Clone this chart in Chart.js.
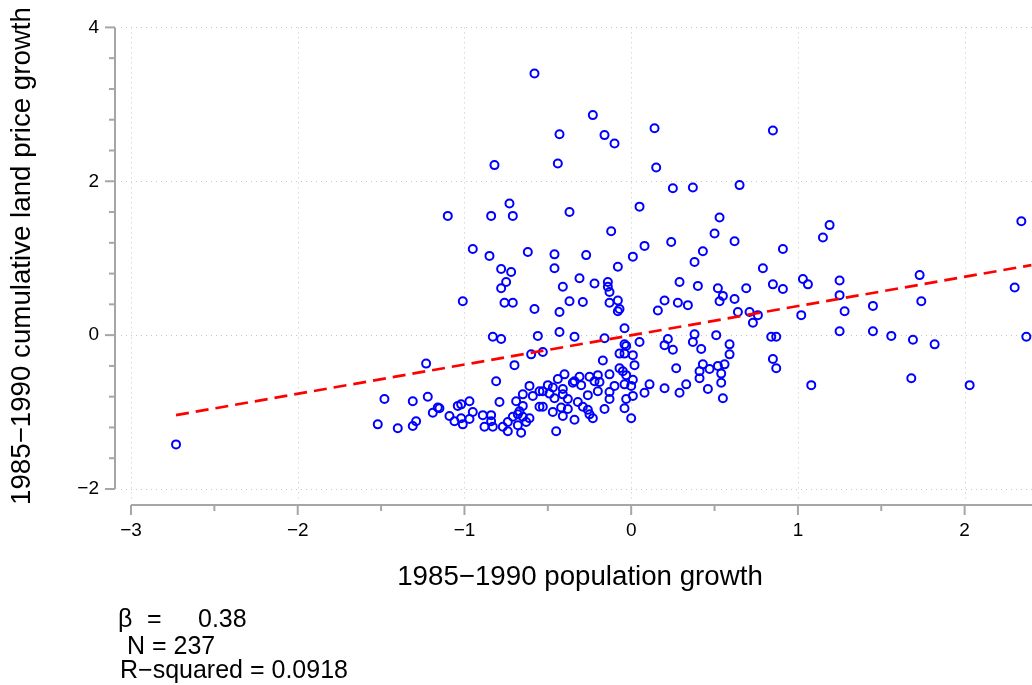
<!DOCTYPE html>
<html>
<head>
<meta charset="utf-8">
<script src="https://cdn.jsdelivr.net/npm/chart.js@4.4.0/dist/chart.umd.min.js"></script>
<style>
  html, body { margin: 0; padding: 0; background: #fff; }
  #wrap { width: 1032px; height: 685px; }
</style>
</head>
<body>
<div id="wrap"><canvas id="myChart" width="1032" height="685"></canvas></div>
<script>
// Data
const popGrowth = [
  -0.58, -0.23, -0.43, -0.16, -0.10, 0.14, 0.15, -0.82, -0.44, 0.25,
  0.37, 0.65, 0.85, -1.10, -0.73, -0.84, -0.71, -0.37, -0.12, 0.05,
  0.53, 0.50, 1.19, 1.15, 2.34, 0.08, 0.24, 0.62, -0.95, -0.62,
  -0.85, -0.46, -0.27, 0.01, 0.43, 0.91, 0.38, 0.79, -0.78, -0.72,
  -0.46, -0.08, -0.75, -0.78, -0.31, -0.41, -0.22, -0.14, -0.14, -0.13,
  0.29, 0.40, 0.52, 0.69, 0.85, 0.91, 1.03, 1.06, 1.25, 1.25,
  1.28, 1.45, 1.73, 1.74, 2.30, -1.01, -0.76, -0.71, -0.58, -0.43,
  -0.37, -0.29, -0.13, -0.08, -0.08, -0.07, 0.20, 0.16, 0.28, 0.34,
  0.53, 0.55, 0.62, 0.64, 0.71, 0.76, 0.73, 1.02, -0.04, 1.25,
  1.45, 1.56, 1.69, 1.82, 2.37, 0.84, 0.87, 0.85, 0.87, 1.08,
  1.68, 2.03, 0.59, 0.59, 0.56, 0.54, 0.54, 0.55, -0.83, -0.78,
  -0.56, -0.43, -0.34, -0.16, 0.22, 0.38, 0.37, 0.51, -0.04, 0.05,
  0.20, 0.25, 0.42, 0.52, -0.60, -0.53, -0.03, -0.07, -0.04, 0.01,
  -0.17, 0.02, -0.13, -0.07, -0.05, -0.03, -0.20, -0.22, -0.19, -0.20,
  -0.25, -0.31, -0.34, -0.35, -0.30, -0.40, -0.44, -0.50, -0.47, -0.41,
  -0.53, -0.49, -0.41, -0.46, -0.38, -0.26, -0.32, -0.29, -0.53, -0.42,
  -0.38, -0.26, -0.47, -0.41, -0.25, -0.23, -0.34, -0.45, -0.59, -0.13,
  -0.13, -0.16, -0.10, -0.04, 0.00, 0.01, -0.03, -0.04, 0.00, 0.27,
  0.43, 0.41, 0.47, 0.41, 0.33, 0.20, 0.29, 0.46, 0.11, 0.08,
  0.01, -0.70, -0.81, -0.79, -1.15, -1.09, -1.04, -1.02, -0.97, -0.95,
  -1.06, -1.02, -1.01, -0.97, -0.89, -0.84, -0.84, -0.88, -0.83, -0.77,
  -0.74, -0.74, -0.71, -0.69, -0.65, -0.61, -0.65, -0.67, -0.68, -0.65,
  -0.61, -0.63, -0.68, -0.66, -0.55, -0.55, -2.73, -1.23, -1.48, -1.31,
  -1.22, -1.16, -1.19, -1.52, -1.40, -1.29, -1.31
];
const landGrowth = [
  3.40, 2.86, 2.61, 2.60, 2.49, 2.69, 2.18, 2.21, 2.23, 1.91,
  1.92, 1.95, 2.66, 1.55, 1.71, 1.55, 1.55, 1.60, 1.35, 1.67,
  1.53, 1.32, 1.43, 1.27, 1.48, 1.16, 1.21, 1.22, 1.12, 1.08,
  1.03, 1.05, 1.04, 1.02, 1.09, 1.12, 0.95, 0.87, 0.86, 0.82,
  0.87, 0.89, 0.69, 0.61, 0.74, 0.63, 0.67, 0.69, 0.63, 0.56,
  0.69, 0.64, 0.61, 0.61, 0.66, 0.60, 0.73, 0.66, 0.71, 0.52,
  0.31, 0.38, 0.78, 0.44, 0.62, 0.44, 0.42, 0.42, 0.34, 0.30,
  0.44, 0.43, 0.42, 0.45, 0.31, 0.34, 0.45, 0.32, 0.42, 0.39,
  0.44, 0.51, 0.47, 0.30, 0.30, 0.26, 0.16, 0.26, 0.09, 0.05,
  0.05, -0.01, -0.06, -0.12, -0.02, -0.02, -0.02, -0.31, -0.43, -0.65,
  -0.56, -0.65, -0.12, -0.25, -0.38, -0.50, -0.62, -0.82, -0.02, -0.05,
  -0.01, 0.04, -0.02, -0.04, -0.05, 0.01, -0.09, 0.00, -0.12, -0.09,
  -0.13, -0.19, -0.18, -0.40, -0.25, -0.22, -0.14, -0.24, -0.24, -0.26,
  -0.33, -0.39, -0.51, -0.43, -0.47, -0.52, -0.52, -0.60, -0.61, -0.73,
  -0.54, -0.54, -0.60, -0.62, -0.65, -0.51, -0.57, -0.65, -0.68, -0.70,
  -0.73, -0.76, -0.77, -0.82, -0.83, -0.78, -0.87, -0.93, -0.93, -0.94,
  -0.96, -0.97, -1.00, -1.05, -1.03, -1.08, -1.10, -1.25, -0.79, -0.74,
  -0.83, -0.96, -0.66, -0.64, -0.66, -0.79, -0.83, -0.95, -1.08, -0.43,
  -0.38, -0.47, -0.44, -0.56, -0.64, -0.69, -0.75, -0.70, -0.64, -0.75,
  -0.58, -0.39, -0.60, -0.87, -0.95, -1.05, -0.92, -0.90, -0.86, -1.00,
  -1.12, -1.08, -1.16, -1.09, -1.04, -1.04, -1.12, -1.19, -1.19, -1.19,
  -1.25, -1.13, -1.06, -0.86, -0.77, -0.66, -0.92, -0.99, -1.03, -1.06,
  -1.08, -1.13, -1.17, -1.27, -0.73, -0.93, -1.42, -0.37, -0.83, -0.86,
  -0.80, -0.94, -1.01, -1.16, -1.21, -1.12, -1.18
];

// fitted line end points
const fitX = [-2.73, 2.40];
const fitY = [-1.04, 0.91];

const xTicks = [-3, -2.5, -2, -1.5, -1, -0.5, 0, 0.5, 1, 1.5, 2];
const xLabels = [-3, -2, -1, 0, 1, 2];
const yTicks = [-2, -1.6, -1.2, -0.8, -0.4, 0, 0.4, 0.8, 1.2, 1.6, 2, 2.4, 2.8, 3.2, 3.6, 4];
const yLabels = [-2, 0, 2, 4];

const xTitle = '1985\u22121990 population growth';
const yTitle = '1985\u22121990 cumulative land price growth';
const betaText = ['\u03b2', '=', '0.38'];
const nText = 'N = 237';
const r2Text = 'R\u2212squared = 0.0918';

const FONT = '"Liberation Sans", Arial, Helvetica, sans-serif';

function isLabel(list, v) {
  return list.some(l => Math.abs(l - v) < 1e-6);
}
function fmt(v) {
  return v < 0 ? '\u2212' + Math.abs(v) : String(v);
}

const frame = {
  id: 'frame',
  beforeDatasetsDraw(chart) {
    const { ctx, chartArea: a, scales: { x, y } } = chart;
    ctx.save();
    ctx.strokeStyle = '#c6c6c6';
    ctx.lineWidth = 1;
    ctx.setLineDash([1, 4]);
    xLabels.forEach(v => {
      const px = Math.round(x.getPixelForValue(v)) + 0.5;
      ctx.beginPath();
      ctx.moveTo(px, a.top);
      ctx.lineTo(px, a.bottom - 4);
      ctx.stroke();
    });
    yLabels.forEach(v => {
      const py = Math.round(y.getPixelForValue(v)) + 0.5;
      ctx.beginPath();
      ctx.moveTo(a.left + 6, py);
      ctx.lineTo(a.right, py);
      ctx.stroke();
    });
    ctx.restore();
  },
  afterDraw(chart) {
    const { ctx, chartArea: a, scales: { x, y } } = chart;
    ctx.save();
    ctx.strokeStyle = '#a6a6a6';
    ctx.lineWidth = 2;
    // axis lines
    ctx.beginPath();
    ctx.moveTo(a.left, y.getPixelForValue(4));
    ctx.lineTo(a.left, y.getPixelForValue(-2));
    ctx.stroke();
    ctx.beginPath();
    ctx.moveTo(x.getPixelForValue(-3), a.bottom);
    ctx.lineTo(a.right, a.bottom);
    ctx.stroke();
    // tick marks
    xTicks.forEach(v => {
      const px = x.getPixelForValue(v);
      const len = isLabel(xLabels, v) ? 10 : 6;
      ctx.beginPath();
      ctx.moveTo(px, a.bottom);
      ctx.lineTo(px, a.bottom + len);
      ctx.stroke();
    });
    yTicks.forEach(v => {
      const py = y.getPixelForValue(v);
      const len = isLabel(yLabels, v) ? 10 : 6;
      ctx.beginPath();
      ctx.moveTo(a.left, py);
      ctx.lineTo(a.left - len, py);
      ctx.stroke();
    });

    // titles
    ctx.fillStyle = '#000';
    ctx.font = '27.7px ' + FONT;
    ctx.textAlign = 'center';
    ctx.textBaseline = 'alphabetic';
    ctx.fillText(xTitle, 580, 585);
    ctx.save();
    ctx.translate(30, 256);
    ctx.rotate(-Math.PI / 2);
    ctx.fillText(yTitle, 0, 0);
    ctx.restore();

    // regression stats
    ctx.font = '25px ' + FONT;
    ctx.textAlign = 'left';
    ctx.fillText(betaText[0], 118, 627);
    ctx.fillText(betaText[1], 147, 627);
    ctx.fillText(betaText[2], 198, 627);
    ctx.fillText(nText, 127, 654);
    ctx.fillText(r2Text, 120, 678);
    ctx.restore();
  }
};

const ctx = document.getElementById('myChart').getContext('2d');
const myChart = new Chart(ctx, {
  type: 'scatter',
  data: {
    datasets: [{
      type: 'line',
      data: fitX.map((v, i) => ({ x: v, y: fitY[i] })),
      borderColor: '#ff0000',
      borderWidth: 2.7,
      borderDash: [13, 7],
      pointRadius: 0,
      fill: false,
      order: 0
    }, {
      data: popGrowth.map((v, i) => ({ x: v, y: landGrowth[i] })),
      pointRadius: 4,
      pointBorderWidth: 2,
      pointBorderColor: '#0000ff',
      pointBackgroundColor: 'rgba(0,0,0,0)',
      order: 1
    }]
  },
  options: {
    responsive: false,
    animation: false,
    devicePixelRatio: 1,
    layout: { autoPadding: false, padding: { top: 27, left: 0, right: 0, bottom: 0 } },
    plugins: { legend: { display: false }, tooltip: { enabled: false } },
    scales: {
      x: {
        type: 'linear',
        min: -3.096,
        max: 2.404,
        grid: { display: false, drawTicks: false },
        border: { display: false },
        afterBuildTicks: s => { s.ticks = xTicks.map(v => ({ value: v })); },
        afterFit: s => { s.height = 180; },
        ticks: {
          autoSkip: false,
          maxRotation: 0,
          padding: 14,
          color: '#000',
          font: { family: FONT, size: 19 },
          callback: v => isLabel(xLabels, v) ? fmt(v) : ''
        }
      },
      y: {
        type: 'linear',
        min: -2.208,
        max: 4,
        grid: { display: false, drawTicks: false },
        border: { display: false },
        afterBuildTicks: s => { s.ticks = yTicks.map(v => ({ value: v })); },
        afterFit: s => { s.width = 115; },
        ticks: {
          autoSkip: false,
          padding: 16,
          color: '#000',
          font: { family: FONT, size: 19 },
          callback: v => isLabel(yLabels, v) ? fmt(v) : ''
        }
      }
    }
  },
  plugins: [frame]
});
</script>
</body>
</html>
